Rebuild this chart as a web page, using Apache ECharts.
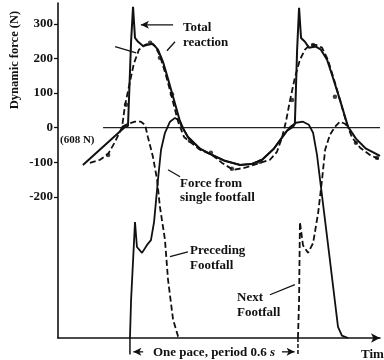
<!DOCTYPE html>
<html><head><meta charset="utf-8">
<script src="https://cdn.jsdelivr.net/npm/echarts@6/dist/echarts.min.js"></script>
<style>html,body{margin:0;padding:0;background:#fff}#c{width:384px;height:360px}</style>
</head><body><div id="c"></div>
<script>
// Tick labels (dynamic force, N); zero = 608 N static weight, bottom axis = -608
const yTickLabels = [300, 200, 100, 0, -100, -200];
const yMin = -608, yMax = 360;
const tMax = 1.15;

// Total reaction (solid) [time s, dynamic force N]
const totalReaction = [[0.089,-108],[0.239,2],[0.25,5],[0.261,248],[0.268,349],[0.275,259],[0.286,248],[0.304,236],[0.321,239],[0.339,242],[0.357,225],[0.375,190],[0.396,132],[0.418,69],[0.439,8],[0.464,-27],[0.507,-61],[0.55,-79],[0.596,-96],[0.65,-108],[0.693,-105],[0.729,-93],[0.771,-61],[0.818,-9],[0.839,2],[0.846,11],[0.854,225],[0.861,346],[0.868,259],[0.882,248],[0.896,231],[0.921,234],[0.939,225],[0.961,196],[0.982,144],[1.007,80],[1.036,2],[1.064,-32],[1.1,-61],[1.15,-82]];

// Measured total (dashed with dots)
const measured = [[0.114,-102],[0.15,-93],[0.179,-76],[0.204,-41],[0.229,2],[0.239,63],[0.254,121],[0.271,185],[0.289,225],[0.311,239],[0.329,245],[0.346,236],[0.364,208],[0.386,150],[0.407,86],[0.429,17],[0.45,-27],[0.471,-41],[0.507,-64],[0.55,-79],[0.586,-102],[0.625,-122],[0.668,-116],[0.721,-102],[0.757,-93],[0.782,-70],[0.8,-29],[0.814,17],[0.829,80],[0.846,144],[0.864,196],[0.882,225],[0.9,239],[0.921,239],[0.943,231],[0.964,196],[0.986,138],[1.007,80],[1.029,17],[1.05,-29],[1.079,-58],[1.114,-79],[1.15,-93]];
const measuredDots = [[0.179,-79],[0.243,66],[0.329,245],[0.364,202],[0.407,96],[0.471,-38],[0.546,-73],[0.621,-119],[0.721,-99],[0.836,80],[0.911,239],[0.989,89],[1.064,-44],[1.139,-87]];

// Force from single footfall (solid)
const singleFootfall = [[0.257,-608],[0.261,-498],[0.275,-273],[0.282,-345],[0.3,-362],[0.318,-339],[0.332,-325],[0.343,-273],[0.357,-151],[0.368,-64],[0.382,-15],[0.4,17],[0.418,28],[0.436,19],[0.45,-7],[0.464,-27],[0.507,-61],[0.55,-79],[0.596,-96],[0.65,-108],[0.693,-105],[0.729,-93],[0.771,-61],[0.818,-9],[0.829,2],[0.85,14],[0.875,17],[0.896,8],[0.911,-15],[0.925,-79],[0.936,-151],[0.968,-362],[1.0,-576],[1.014,-601],[1.036,-608]];

// Preceding footfall (dashed)
const precedingFootfall = [[0.229,2],[0.25,11],[0.275,17],[0.296,17],[0.311,8],[0.321,-27],[0.339,-84],[0.354,-151],[0.364,-229],[0.382,-324],[0.393,-440],[0.411,-555],[0.429,-604],[0.439,-608]];

// Next footfall (dashed)
const nextFootfall = [[0.857,-608],[0.861,-498],[0.864,-273],[0.875,-340],[0.893,-362],[0.911,-334],[0.929,-247],[0.943,-151],[0.954,-64],[0.971,-21],[0.989,2],[1.007,17],[1.025,11],[1.036,2]];

// Zero (608 N) reference line
const zeroLine = [[0.161,0],[1.15,0]];

// Pace period markers (s)
const paceStart = 0.257, paceEnd = 0.857;
const markerBottom = -656, paceArrowY = -648;

// Leader lines for annotations [from, to]
const leaders = [
  [[0.411,297],[0.296,297]],
  [[0.418,248],[0.389,222]],
  [[0.204,234],[0.279,216]],
  [[0.393,-122],[0.436,-142]],
  [[0.464,-359],[0.4,-373]],
  [[0.757,-483],[0.846,-454]]
];
const INK = '#111';
const FONT = 'bold 13px "Liberation Serif", "DejaVu Serif", serif';

const chart = echarts.init(document.getElementById('c'), null, {renderer:'canvas'});

function lineS(data, opts) {
  return Object.assign({type:'line', data, symbol:'none', silent:true, clip:false,
    lineStyle:{color:INK, width:1.6}, z:3}, opts || {});
}
const dashed = {color:INK, width:1.8, type:[6,3]};

const series = [
  lineS(zeroLine, {lineStyle:{color:'#222', width:1.4}, z:2}),
  lineS(measured, {lineStyle:dashed}),
  {type:'scatter', data:measuredDots, symbol:'circle', symbolSize:4.5, itemStyle:{color:INK}, silent:true, z:4},
  lineS(precedingFootfall, {lineStyle:dashed}),
  lineS(nextFootfall, {lineStyle:dashed}),
  lineS(singleFootfall, {lineStyle:{color:INK, width:1.8}}),
  lineS(totalReaction, {lineStyle:{color:INK, width:2}}),
  lineS([[paceStart,yMin],[paceStart,markerBottom]], {lineStyle:{color:INK, width:1.5}}),
  lineS([[paceEnd,yMin],[paceEnd,markerBottom]], {lineStyle:{color:INK, width:1.5, type:[4,2]}}),
  lineS([[paceStart+0.047,paceArrowY],{value:[paceStart+0.012,paceArrowY], symbol:'arrow', symbolSize:[6,8], symbolRotate:90, itemStyle:{color:INK}}], {lineStyle:{color:INK, width:1.3}}),
  lineS([[paceEnd-0.057,paceArrowY],{value:[paceEnd-0.012,paceArrowY], symbol:'arrow', symbolSize:[6,8], symbolRotate:-90, itemStyle:{color:INK}}], {lineStyle:{color:INK, width:1.3}})
];
leaders.forEach((seg, i) => {
  const d = i === 0 ? [seg[0], {value:seg[1], symbol:'arrow', symbolSize:[6,8], symbolRotate:90, itemStyle:{color:INK}}] : seg;
  series.push(lineS(d, {lineStyle:{color:INK, width:1.3}}));
});

function txt(text, x, y, extra) {
  return Object.assign({type:'text', x, y, silent:true, z:10,
    style:{text, font:FONT, fill:INK, verticalAlign:'middle', align:'left'}}, extra || {});
}

chart.setOption({
  animation:false,
  grid:{left:58, right:4, top:3, bottom:22, containLabel:false},
  xAxis:{type:'value', min:0, max:tMax, splitLine:{show:false},
    axisLabel:{show:false}, axisTick:{show:false},
    axisLine:{show:true, onZero:false, lineStyle:{color:INK, width:1.6}, symbol:['none','arrow'], symbolSize:[7,9]}},
  yAxis:{type:'value', min:yMin, max:yMax, splitLine:{show:false},
    axisLine:{show:true, onZero:false, lineStyle:{color:INK, width:1.6}},
    axisTick:{show:true, customValues:yTickLabels, length:4, lineStyle:{color:INK, width:1.3}},
    axisLabel:{show:true, customValues:yTickLabels, color:INK, fontFamily:'"Liberation Serif", serif', fontWeight:'bold', fontSize:13, margin:5}},
  series,
  graphic:[
    txt('Dynamic force (N)', 15, 60, {rotation:Math.PI/2, style:{text:'Dynamic force (N)', font:'bold 12.5px "Liberation Serif", serif', fill:INK, verticalAlign:'middle', align:'center'}}),
    txt('(608 N)', 60, 140, {style:{text:'(608 N)', font:'bold 11px "Liberation Serif", serif', fill:INK, verticalAlign:'middle'}}),
    txt('Total', 183, 28),
    txt('reaction', 183, 43),
    txt('Force from', 180, 184),
    txt('single footfall', 180, 198),
    txt('Preceding', 190, 251),
    txt('Footfall', 190, 266),
    txt('Next', 237, 298),
    txt('Footfall', 237, 313),
    {type:'text', x:153, y:353, silent:true, z:10, style:{text:'{a|One pace, period 0.6 }{b|s}', verticalAlign:'middle', fill:INK,
      rich:{a:{font:FONT, fill:INK}, b:{font:'bold italic 13px "Liberation Serif", serif', fill:INK}}}},
    txt('Time', 361, 355)
  ]
});
</script>
</body></html>
